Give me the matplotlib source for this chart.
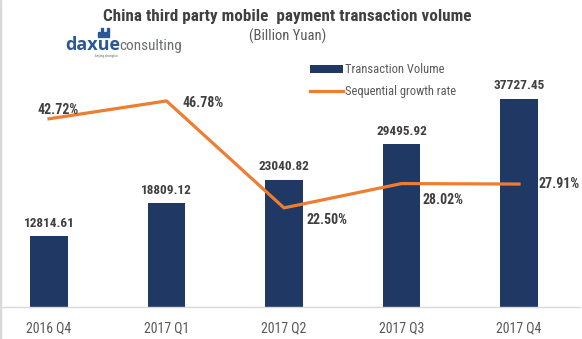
import matplotlib

matplotlib.use("Agg")
import matplotlib.pyplot as plt
from matplotlib.patches import Rectangle

QUARTERS = ["2016 Q4", "2017 Q1", "2017 Q2", "2017 Q3", "2017 Q4"]
VOLUME = [12814.61, 18809.12, 23040.82, 29495.92, 37727.45]
GROWTH = [42.72, 46.78, 22.50, 28.02, 27.91]
# label offsets (points) for the growth-rate annotations
GROWTH_OFFSETS = [(6.5, 6.5), (11.5, -1.5), (16, -8.6), (15, -12), (14, 0)]
GROWTH_ALIGN = ["center", "left", "left", "left", "left"]

BAR_COLOR = "#203864"
LINE_COLOR = "#ED7D31"
TEXT_DARK = "#404040"
TEXT_GREY = "#595959"
NARROW = ["Liberation Sans Narrow", "Roboto Condensed", "Fira Sans Condensed", "DejaVu Sans"]

plt.rcParams["font.family"] = NARROW

W, H = 582, 339
fig = plt.figure(figsize=(W / 100, H / 100), dpi=100, facecolor="white")

ax = fig.add_axes([0.0, (H - 307) / H, 580 / W, (307 - 59) / H])
x = list(range(len(QUARTERS)))
bars = ax.bar(x, VOLUME, width=0.32, color=BAR_COLOR, zorder=2, label="Transaction Volume")
ax.set_xlim(-0.417, 4.519)
ax.set_ylim(0, 45000)
for xi, v in zip(x, VOLUME):
    ax.annotate(f"{v:.2f}", (xi, v), xytext=(0, 9.5), textcoords="offset points",
                ha="center", va="center", fontsize=9.5, fontweight="bold", color=TEXT_DARK)

ax.set_yticks([])
ax.set_xticks(x)
ax.set_xticklabels(QUARTERS, fontsize=10, color=TEXT_GREY)
ax.tick_params(axis="x", length=0, pad=10)
for side in ("top", "left", "right"):
    ax.spines[side].set_visible(False)
ax.spines["bottom"].set_color("#d9d9d9")
ax.spines["bottom"].set_linewidth(1.0)
ax.patch.set_alpha(0)

ax2 = ax.twinx()
line, = ax2.plot(x, GROWTH, color=LINE_COLOR, lw=2.3, zorder=3, label="Sequential growth rate")
ax2.set_ylim(0, 56.3)
ax2.set_yticks([])
for side in ("top", "left", "right", "bottom"):
    ax2.spines[side].set_visible(False)
for xi, g, off, ha in zip(x, GROWTH, GROWTH_OFFSETS, GROWTH_ALIGN):
    ax2.annotate(f"{g:.2f}%", (xi, g), xytext=off, textcoords="offset points",
                 ha=ha, va="center", fontsize=10, fontweight="bold", color=TEXT_DARK)

fig.legend([bars, line], ["Transaction Volume", "Sequential growth rate"],
           loc="upper left", bbox_to_anchor=(299 / W, 1 - 52 / H), frameon=False,
           fontsize=9, labelcolor=TEXT_GREY, handlelength=2.6, handleheight=0.55,
           labelspacing=0.72, handletextpad=0.15)

fig.text(287 / W, 1 - 16 / H, "China third party mobile  payment transaction volume",
         ha="center", va="center", fontsize=12.3, fontweight="bold", color=TEXT_DARK)
fig.text(288 / W, 1 - 36 / H, "(Billion Yuan)", ha="center", va="center",
         fontsize=10.5, color=TEXT_GREY)

# logo
fig.text(65 / W, 1 - 50 / H, "daxue", ha="left", va="baseline", fontsize=13,
         fontweight="bold", color="#2b5797", family=["Open Sans", "DejaVu Sans"])
fig.text(119 / W, 1 - 50 / H, "consulting", ha="left", va="baseline", fontsize=11,
         color="#6d6e71", family=NARROW)
fig.text(95 / W, 1 - 55.5 / H, "beijing shanghai", ha="left", va="center", fontsize=2.5,
         color="#6d6e71")
for bx, bh in ((98, 5), (101, 9), (104, 5), (107, 9)):
    fig.add_artist(Rectangle((bx / W, 1 - 37 / H), 1.6 / W, bh / H,
                             transform=fig.transFigure, color="#2b5797"))

fig.add_artist(Rectangle((0, 0), 1.2 / W, 1, transform=fig.transFigure, color="#d9d9d9"))

fig.savefig("out.png", dpi=100, facecolor="white")
